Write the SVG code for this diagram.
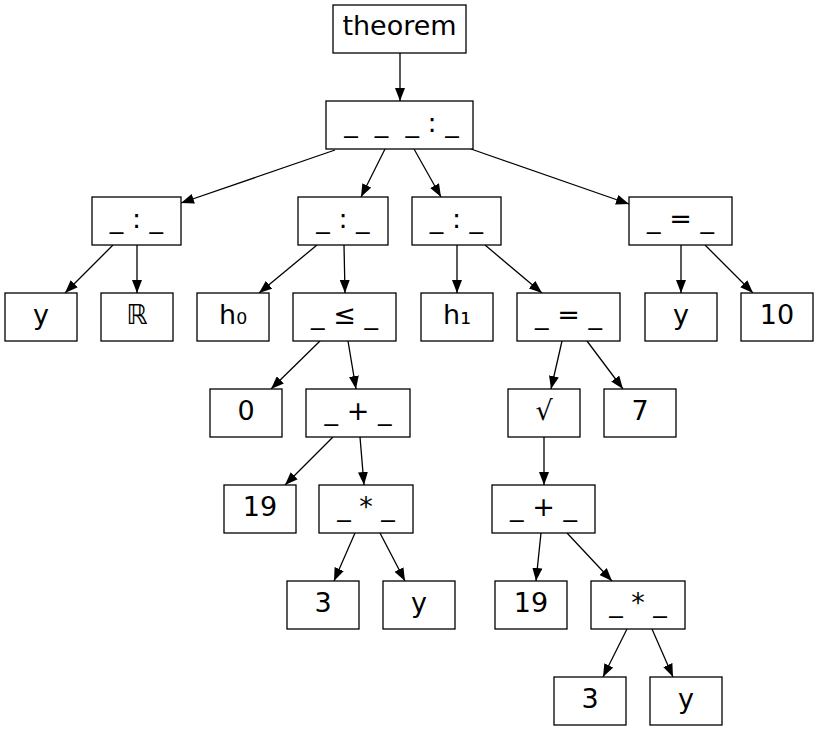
<svg xmlns="http://www.w3.org/2000/svg" width="819" height="731" viewBox="0 0 819 731">
<defs>
<marker id="ah" viewBox="0 0 13 10" refX="13" refY="5" markerWidth="13" markerHeight="10" orient="auto" markerUnits="userSpaceOnUse"><path d="M0,0 L13,5 L0,10 z" fill="#000"/></marker>
<style>
rect{fill:#fff;stroke:#000;stroke-width:1.3}
text{font-family:"DejaVu Sans",sans-serif;font-size:27px;text-anchor:middle;fill:#000}
#edges line{stroke:#000;stroke-width:1.3;marker-end:url(#ah)}
</style>
</defs>
<rect x="0" y="0" width="819" height="731" style="fill:#fff;stroke:none"/>
<g id="edges">
<line x1="400" y1="53" x2="400" y2="101"/>
<line x1="335" y1="150" x2="181" y2="203"/>
<line x1="385" y1="149" x2="361" y2="197"/>
<line x1="414" y1="149" x2="441" y2="197"/>
<line x1="471" y1="149" x2="629" y2="204"/>
<line x1="113" y1="245" x2="65" y2="293"/>
<line x1="137" y1="245" x2="137" y2="293"/>
<line x1="317" y1="245" x2="259" y2="293"/>
<line x1="344" y1="245" x2="345" y2="293"/>
<line x1="457" y1="245" x2="457" y2="293"/>
<line x1="485" y1="245" x2="542" y2="293"/>
<line x1="681" y1="245" x2="681" y2="293"/>
<line x1="705" y1="245" x2="753" y2="293"/>
<line x1="320" y1="341" x2="271" y2="389"/>
<line x1="348" y1="341" x2="356" y2="389"/>
<line x1="562" y1="341" x2="551" y2="389"/>
<line x1="587" y1="341" x2="623" y2="389"/>
<line x1="333" y1="437" x2="285" y2="485"/>
<line x1="360" y1="437" x2="364" y2="485"/>
<line x1="544" y1="437" x2="544" y2="485"/>
<line x1="355" y1="533" x2="334" y2="581"/>
<line x1="380" y1="533" x2="405" y2="581"/>
<line x1="541" y1="533" x2="536" y2="581"/>
<line x1="567" y1="533" x2="612" y2="581"/>
<line x1="627" y1="629" x2="603" y2="677"/>
<line x1="652" y1="629" x2="673" y2="677"/>
</g>
<g id="n_theorem"><rect x="333" y="5" width="133" height="48"/><text x="399.5" y="35">theorem</text></g>
<g id="n_root"><rect x="326" y="101" width="147" height="48"/><text x="401.5" y="132" xml:space="preserve">_  _  _ : _</text></g>
<g id="n_a"><rect x="92" y="197" width="89" height="48"/><text x="136.5" y="228">_ : _</text></g>
<g id="n_b"><rect x="298" y="197" width="90" height="48"/><text x="343" y="228">_ : _</text></g>
<g id="n_c"><rect x="412" y="197" width="89" height="48"/><text x="456.5" y="228">_ : _</text></g>
<g id="n_d"><rect x="629" y="197" width="103" height="48"/><text x="680.5" y="228">_ = _</text></g>
<g id="n_y1"><rect x="5" y="293" width="72" height="48"/><text x="41" y="324">y</text></g>
<g id="n_R"><rect x="101" y="293" width="72" height="48"/><text x="137" y="324">ℝ</text></g>
<g id="n_h0"><rect x="197" y="293" width="72" height="48"/><text x="233" y="324">h₀</text></g>
<g id="n_le"><rect x="293" y="293" width="103" height="48"/><text x="344.5" y="324">_ ≤ _</text></g>
<g id="n_h1"><rect x="421" y="293" width="72" height="48"/><text x="457" y="324">h₁</text></g>
<g id="n_eq"><rect x="517" y="293" width="103" height="48"/><text x="568.5" y="324">_ = _</text></g>
<g id="n_y2"><rect x="645" y="293" width="72" height="48"/><text x="681" y="324">y</text></g>
<g id="n_10"><rect x="741" y="293" width="72" height="48"/><text x="777" y="324">10</text></g>
<g id="n_0"><rect x="210" y="389" width="72" height="48"/><text x="246" y="420">0</text></g>
<g id="n_plus1"><rect x="306" y="389" width="104" height="48"/><text x="358" y="420">_ + _</text></g>
<g id="n_sqrt"><rect x="508" y="389" width="72" height="48"/><text x="544" y="420">√</text></g>
<g id="n_7"><rect x="604" y="389" width="72" height="48"/><text x="640" y="420">7</text></g>
<g id="n_19a"><rect x="224" y="485" width="72" height="48"/><text x="260" y="516">19</text></g>
<g id="n_mul1"><rect x="319" y="485" width="94" height="48"/><text x="366" y="516">_ * _</text></g>
<g id="n_plus2"><rect x="492" y="485" width="103" height="48"/><text x="543.5" y="516">_ + _</text></g>
<g id="n_3a"><rect x="287" y="581" width="72" height="48"/><text x="323" y="612">3</text></g>
<g id="n_y3"><rect x="383" y="581" width="72" height="48"/><text x="419" y="612">y</text></g>
<g id="n_19b"><rect x="495" y="581" width="72" height="48"/><text x="531" y="612">19</text></g>
<g id="n_mul2"><rect x="591" y="581" width="94" height="48"/><text x="638" y="612">_ * _</text></g>
<g id="n_3b"><rect x="554" y="677" width="72" height="48"/><text x="590" y="708">3</text></g>
<g id="n_y4"><rect x="650" y="677" width="72" height="48"/><text x="686" y="708">y</text></g>
</svg>
